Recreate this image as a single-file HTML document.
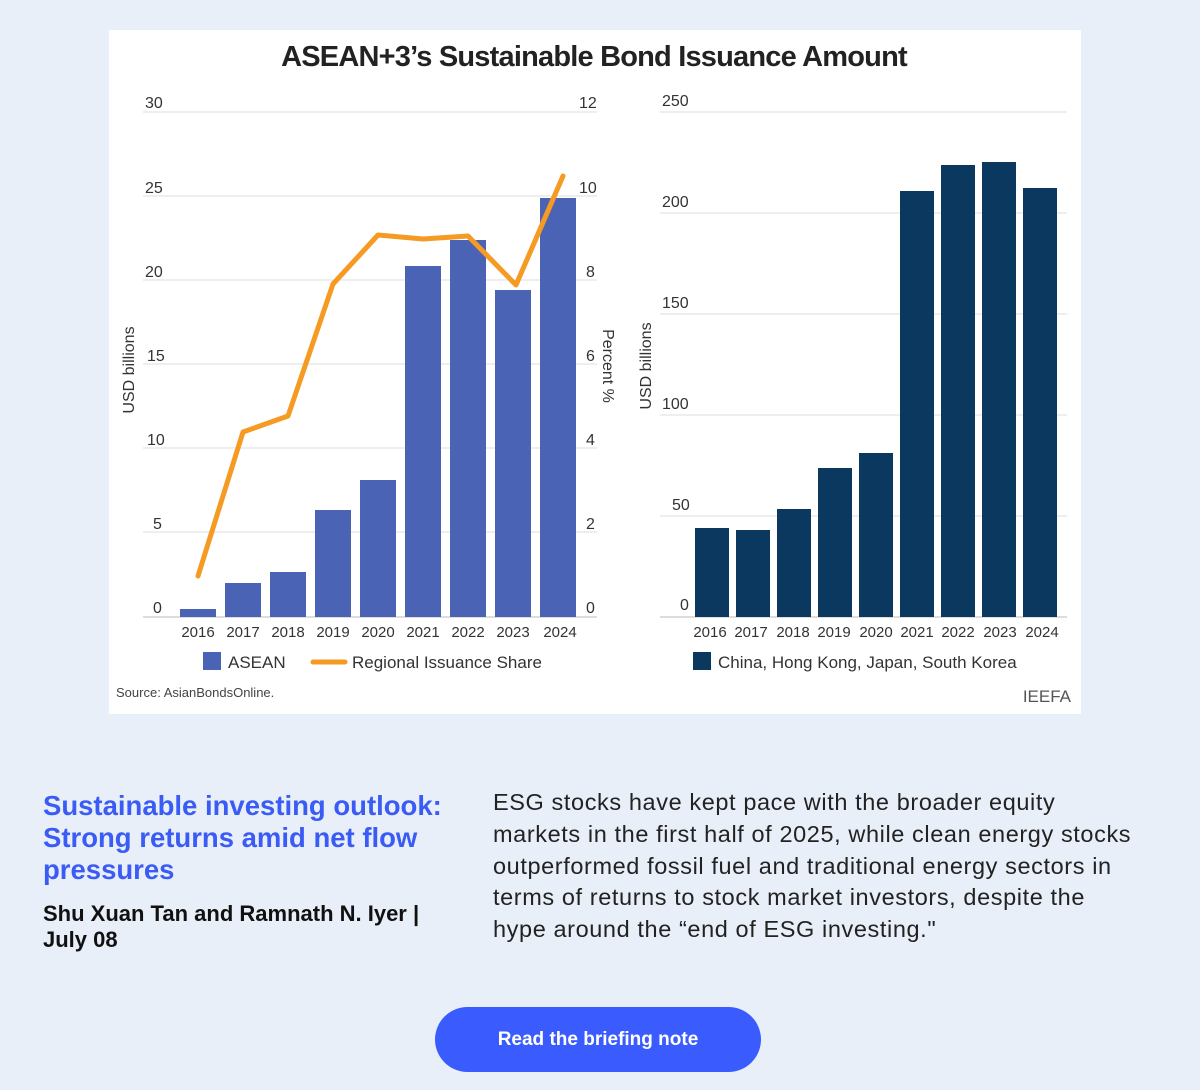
<!DOCTYPE html>
<html><head><meta charset="utf-8"><style>
body{margin:0;width:1200px;height:1090px;background:#e9eff8;font-family:"Liberation Sans",sans-serif;position:relative;overflow:hidden}
.box{position:absolute;left:109px;top:30px;width:972px;height:684px;background:#fff}
.h{position:absolute;left:43px;top:790px;width:420px;color:#3a5cf5;font-weight:bold;font-size:27.5px;line-height:32px}
.a{position:absolute;left:43px;top:901px;width:420px;color:#111;font-weight:bold;font-size:22px;line-height:26px}
.p{position:absolute;left:493px;top:787px;width:700px;color:#222;font-size:23.5px;line-height:31.8px;letter-spacing:0.6px;white-space:nowrap}
.btn{position:absolute;left:435px;top:1007px;width:326px;height:65px;border-radius:33px;background:#3a5cff;color:#fff;font-weight:bold;font-size:19px;text-align:center;line-height:65px}
</style></head><body>
<div class="box"></div>
<svg width="1200" height="1090" style="position:absolute;left:0;top:0" font-family="Liberation Sans, sans-serif">
<text x="594" y="66" text-anchor="middle" font-size="29" font-weight="bold" fill="#222" letter-spacing="-0.8">ASEAN+3’s Sustainable Bond Issuance Amount</text>
<g stroke="#ddd" stroke-width="1">
<line x1="143" x2="597" y1="112" y2="112"/><line x1="143" x2="597" y1="196" y2="196"/><line x1="143" x2="597" y1="280" y2="280"/><line x1="143" x2="597" y1="364" y2="364"/><line x1="143" x2="597" y1="448" y2="448"/><line x1="143" x2="597" y1="532" y2="532"/><line x1="143" x2="597" y1="617" y2="617" stroke="#bbb"/>
<line x1="660" x2="1067" y1="112" y2="112"/><line x1="660" x2="1067" y1="213" y2="213"/><line x1="660" x2="1067" y1="314" y2="314"/><line x1="660" x2="1067" y1="415" y2="415"/><line x1="660" x2="1067" y1="516" y2="516"/><line x1="660" x2="1067" y1="617" y2="617" stroke="#bbb"/>
</g>
<g font-size="16" fill="#333">
<text x="145" y="108">30</text><text x="145" y="193">25</text><text x="145" y="277">20</text><text x="147" y="361">15</text><text x="147" y="445">10</text><text x="153" y="529">5</text><text x="153" y="613">0</text>
<text x="579" y="108">12</text><text x="579" y="193">10</text><text x="586" y="277">8</text><text x="586" y="361">6</text><text x="586" y="445">4</text><text x="586" y="529">2</text><text x="586" y="613">0</text>
<text x="662" y="106">250</text><text x="662" y="207">200</text><text x="662" y="308">150</text><text x="662" y="409">100</text><text x="672" y="510">50</text><text x="680" y="610">0</text>
</g>
<g fill="#4a63b4">
<rect x="180" y="609" width="36" height="8"/><rect x="225" y="583" width="36" height="34"/><rect x="270" y="572" width="36" height="45"/><rect x="315" y="510" width="36" height="107"/><rect x="360" y="480" width="36" height="137"/><rect x="405" y="266" width="36" height="351"/><rect x="450" y="240" width="36" height="377"/><rect x="495" y="290" width="36" height="327"/><rect x="540" y="198" width="36" height="419"/>
</g>
<polyline points="198,576 243,432 288,416 333,284 378,235 423,239 468,236 516,285 563,176" fill="none" stroke="#f59a23" stroke-width="5" stroke-linejoin="round" stroke-linecap="round"/>
<g fill="#0b385e">
<rect x="695" y="528" width="34" height="89"/><rect x="736" y="530" width="34" height="87"/><rect x="777" y="509" width="34" height="108"/><rect x="818" y="468" width="34" height="149"/><rect x="859" y="453" width="34" height="164"/><rect x="900" y="191" width="34" height="426"/><rect x="941" y="165" width="34" height="452"/><rect x="982" y="162" width="34" height="455"/><rect x="1023" y="188" width="34" height="429"/>
</g>
<g font-size="15" fill="#333" text-anchor="middle">
<text x="198" y="637">2016</text><text x="243" y="637">2017</text><text x="288" y="637">2018</text><text x="333" y="637">2019</text><text x="378" y="637">2020</text><text x="423" y="637">2021</text><text x="468" y="637">2022</text><text x="513" y="637">2023</text><text x="560" y="637">2024</text>
<text x="710" y="637">2016</text><text x="751" y="637">2017</text><text x="793" y="637">2018</text><text x="834" y="637">2019</text><text x="876" y="637">2020</text><text x="917" y="637">2021</text><text x="958" y="637">2022</text><text x="1000" y="637">2023</text><text x="1042" y="637">2024</text>
</g>
<text transform="translate(134,370) rotate(-90)" text-anchor="middle" font-size="16" fill="#333">USD billions</text>
<text transform="translate(603,366) rotate(90)" text-anchor="middle" font-size="16" fill="#333">Percent %</text>
<text transform="translate(651,366) rotate(-90)" text-anchor="middle" font-size="16" fill="#333">USD billions</text>
<rect x="203" y="652" width="18" height="18" fill="#4a63b4"/><text x="228" y="668" font-size="17" fill="#333">ASEAN</text>
<line x1="313" x2="345" y1="662" y2="662" stroke="#f59a23" stroke-width="5" stroke-linecap="round"/><text x="352" y="668" font-size="17" fill="#333">Regional Issuance Share</text>
<rect x="693" y="652" width="18" height="18" fill="#0b385e"/><text x="718" y="668" font-size="17" fill="#333">China, Hong Kong, Japan, South Korea</text>
<text x="116" y="697" font-size="13" fill="#444">Source: AsianBondsOnline.</text>
<text x="1071" y="702" text-anchor="end" font-size="17" fill="#555">IEEFA</text>
</svg>
<div class="h">Sustainable investing outlook: Strong returns amid net flow pressures</div>
<div class="a">Shu Xuan Tan and Ramnath N. Iyer | July 08</div>
<div class="p">ESG stocks have kept pace with the broader equity<br>markets in the first half of 2025, while clean energy stocks<br>outperformed fossil fuel and traditional energy sectors in<br>terms of returns to stock market investors, despite the<br>hype around the “end of ESG investing."</div>
<div class="btn">Read the briefing note</div>
</body></html>
